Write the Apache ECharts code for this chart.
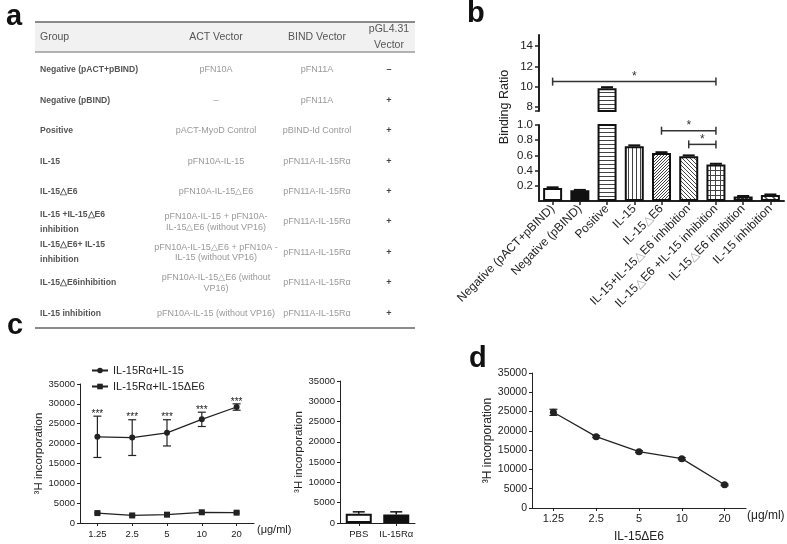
<!DOCTYPE html>
<html><head><meta charset="utf-8">
<script src="https://cdn.jsdelivr.net/npm/echarts@6/dist/echarts.min.js"></script>
<style>html,body{margin:0;padding:0;background:#fff}#c{width:787px;height:544px}</style>
</head><body><div id="c"></div>
<script>
// ---------- Panel a : table ----------
const tableHeader = ['Group', 'ACT Vector', 'BIND Vector', 'pGL4.31\nVector'];
const groupCol = ['Negative (pACT+pBIND)', 'Negative (pBIND)', 'Positive', 'IL-15', 'IL-15△E6',
  'IL-15 +IL-15△E6\ninhibition', 'IL-15△E6+ IL-15\ninhibition', 'IL-15△E6inhibition', 'IL-15 inhibition'];
const actCol = ['pFN10A', '–', 'pACT-MyoD Control', 'pFN10A-IL-15', 'pFN10A-IL-15△E6',
  'pFN10A-IL-15 + pFN10A-\nIL-15△E6 (without VP16)', 'pFN10A-IL-15△E6 + pFN10A -\nIL-15 (without VP16)',
  'pFN10A-IL-15△E6 (without\nVP16)', 'pFN10A-IL-15 (without VP16)'];
const bindCol = ['pFN11A', 'pFN11A', 'pBIND-Id Control', 'pFN11A-IL-15Rα', 'pFN11A-IL-15Rα',
  'pFN11A-IL-15Rα', 'pFN11A-IL-15Rα', 'pFN11A-IL-15Rα', 'pFN11A-IL-15Rα'];
const pglCol = ['–', '+', '+', '+', '+', '+', '+', '+', '+'];

// ---------- Panel b : binding ratio ----------
const bCategories = ['Negative (pACT+pBIND)', 'Negative (pBIND)', 'Positive', 'IL-15', 'IL-15△E6',
  'IL-15+IL-15△E6 inhibition', 'IL-15△E6 +IL-15 inhibition', 'IL-15△E6 inhibition', 'IL-15 inhibition'];
const bValues = [0.17, 0.14, 9.85, 0.72, 0.63, 0.59, 0.48, 0.06, 0.08];
const bErrors = [0.01, 0.006, 0.1, 0.012, 0.012, 0.01, 0.01, 0.006, 0.006];
const bUpperTicks = [8, 10, 12, 14];
const bLowerTicks = [0.2, 0.4, 0.6, 0.8, 1.0];
const bSignificance = [[0, 6, 10.5], [4, 6, 0.925], [5, 6, 0.745]];

// ---------- Panel c : proliferation ----------
const cDoses = ['1.25', '2.5', '5', '10', '20'];
const cIL15 = [21700, 21500, 22700, 26100, 29200];
const cIL15Err = [5200, 4500, 3300, 1800, 800];
const cIL15dE6 = [2500, 1900, 2100, 2700, 2600];
const cIL15dE6Err = [200, 200, 200, 200, 200];
const cCtrlCats = ['PBS', 'IL-15Rα'];
const cCtrlValues = [2300, 2100];
const cCtrlErr = [450, 650];
const cSeriesNames = ['IL-15Rα+IL-15', 'IL-15Rα+IL-15ΔE6'];

// ---------- Panel d : inhibition ----------
const dDoses = ['1.25', '2.5', '5', '10', '20'];
const dValues = [24800, 18500, 14600, 12800, 6000];
const dErr = [800, 250, 250, 250, 200];

const FONT = 'Liberation Sans, Arial, Helvetica, sans-serif';
const INK = '#222';

function pattern(kind) {
  const sizes = {h: 4, v: 4, d1: 3, d2: 4, grid: 5, dots: 4, wide: 8};
  const p = sizes[kind];
  const cv = document.createElement('canvas');
  cv.width = p; cv.height = p;
  const g = cv.getContext('2d');
  g.fillStyle = '#fff'; g.fillRect(0, 0, p, p);
  g.fillStyle = '#444'; g.strokeStyle = '#444'; g.lineWidth = 1;
  if (kind === 'h') g.fillRect(0, 0, p, 1);
  else if (kind === 'v') g.fillRect(0, 0, 1, p);
  else if (kind === 'grid') { g.fillRect(0, 0, p, 1); g.fillRect(0, 0, 1, p); }
  else if (kind === 'dots') { g.fillRect(0, 0, 2, 1); g.fillRect(2, 2, 2, 1); g.fillRect(1, 0, 1, 4); }
  else if (kind === 'd1') {
    g.beginPath(); g.moveTo(-1, p + 1); g.lineTo(p + 1, -1);
    g.moveTo(-1, 1); g.lineTo(1, -1); g.moveTo(p - 1, p + 1); g.lineTo(p + 1, p - 1); g.stroke();
  } else {
    g.lineWidth = kind === 'wide' ? 1.5 : 1;
    g.beginPath(); g.moveTo(-1, -1); g.lineTo(p + 1, p + 1);
    g.moveTo(p - 1, -1); g.lineTo(p + 1, 1); g.moveTo(-1, p - 1); g.lineTo(1, p + 1); g.stroke();
  }
  return {image: cv, repeat: 'repeat'};
}
const bFills = ['#fff', '#111', pattern('h'), pattern('v'), pattern('d1'), pattern('d2'), pattern('grid'), pattern('dots'), pattern('wide')];

const upperMin = 7.6, upperMax = 15.1;
function barItems(filterFn) {
  return bValues.map((v, i) => filterFn(v) ? {value: v, itemStyle: {color: bFills[i]}} : '-');
}
function errItems(filterFn) {
  return bValues.map((v, i) => [i, v, bErrors[i]]).filter(d => filterFn(d[1]));
}

function barErr(capHalf, lw) {
  return function (params, api) {
    const i = api.value(0), v = api.value(1), e = api.value(2);
    const p0 = api.coord([i, v]), p1 = api.coord([i, v + e]);
    const st = {stroke: '#111', lineWidth: lw};
    return {type: 'group', children: [
      {type: 'line', shape: {x1: p0[0], y1: p0[1], x2: p1[0], y2: p1[1]}, style: st},
      {type: 'line', shape: {x1: p1[0] - capHalf, y1: p1[1], x2: p1[0] + capHalf, y2: p1[1]}, style: st}
    ]};
  };
}
function lineErr(capHalf, mark) {
  return function (params, api) {
    const i = api.value(0), v = api.value(1), e = api.value(2);
    const t = api.coord([i, v + e]), b = api.coord([i, v - e]);
    const st = {stroke: INK, lineWidth: 1.2};
    const ch = [
      {type: 'line', shape: {x1: t[0], y1: t[1], x2: b[0], y2: b[1]}, style: st},
      {type: 'line', shape: {x1: t[0] - capHalf, y1: t[1], x2: t[0] + capHalf, y2: t[1]}, style: st},
      {type: 'line', shape: {x1: b[0] - capHalf, y1: b[1], x2: b[0] + capHalf, y2: b[1]}, style: st}
    ];
    if (mark) ch.push({type: 'text', x: t[0], y: t[1] + 3, style: {text: mark, align: 'center', verticalAlign: 'bottom', fontSize: 10, fill: INK, fontFamily: FONT}});
    return {type: 'group', children: ch};
  };
}
function sigRender(params, api) {
  const a = api.coord([api.value(0), api.value(2)]), b = api.coord([api.value(1), api.value(2)]);
  const st = {stroke: '#333', lineWidth: 1.5};
  return {type: 'group', children: [
    {type: 'line', shape: {x1: a[0], y1: a[1], x2: b[0], y2: b[1]}, style: st},
    {type: 'line', shape: {x1: a[0], y1: a[1] - 4, x2: a[0], y2: a[1] + 4}, style: st},
    {type: 'line', shape: {x1: b[0], y1: b[1] - 4, x2: b[0], y2: b[1] + 4}, style: st},
    {type: 'text', x: (a[0] + b[0]) / 2, y: a[1] + 1, style: {text: '*', align: 'center', verticalAlign: 'bottom', fontSize: 12, fill: '#333', fontFamily: FONT}}
  ]};
}

// ---------- graphics (table + panel letters) ----------
const graphics = [];
function txt(x, y, text, o) {
  graphics.push({type: 'text', x: x, y: y, silent: true, rotation: (o && o.rot) || 0,
    style: Object.assign({text: text, fontFamily: FONT, fontSize: 9, fill: '#999', align: 'center', verticalAlign: 'middle'}, o && o.style)});
}
function hline(x1, x2, y, w, c) {
  graphics.push({type: 'line', silent: true, shape: {x1: x1, y1: y, x2: x2, y2: y}, style: {stroke: c, lineWidth: w}});
}
graphics.push({type: 'rect', silent: true, shape: {x: 35, y: 22, width: 380, height: 30}, style: {fill: '#f1f1f1'}});
hline(35, 415, 22, 2, '#8a8a8a');
hline(35, 415, 52, 1.5, '#9a9a9a');
hline(35, 415, 328, 2, '#8a8a8a');
const colX = [40, 216, 317, 389];
tableHeader.forEach((h, k) => txt(colX[k], 37, h, {style: {fontSize: 10.5, fill: '#555', align: k === 0 ? 'left' : 'center', lineHeight: 16}}));
groupCol.forEach((g, r) => {
  const y = 70 + r * 30.4;
  txt(colX[0], y, g, {style: {align: 'left', fontWeight: 'bold', fill: '#555', fontSize: 8.6, lineHeight: 15}});
  txt(colX[1], y, actCol[r], {style: {lineHeight: 10.5}});
  txt(colX[2], y, bindCol[r]);
  txt(colX[3], y, pglCol[r], {style: {fill: '#444', fontSize: 9, fontWeight: 'bold'}});
});
const letters = [['a', 6, 17], ['b', 467, 14], ['c', 7, 326], ['d', 469, 359]];
letters.forEach(l => txt(l[1], l[2], l[0], {style: {align: 'left', fontSize: 29, fontWeight: 'bold', fill: '#111'}}));
txt(505, 107, 'Binding Ratio', {rot: Math.PI / 2, style: {fontSize: 12.5, fill: INK}});

// ---------- axes helpers ----------
const axLine = (w) => ({show: true, lineStyle: {color: INK, width: w}});
function valueY(grid, fs, nameGap, name) {
  return {type: 'value', gridIndex: grid, min: 0, max: 35000, interval: 5000,
    axisLine: axLine(1), axisTick: {show: true, length: 3, lineStyle: {color: INK}},
    axisLabel: {fontSize: fs, color: INK, margin: 5, formatter: v => String(v)}, splitLine: {show: false},
    name: name, nameLocation: 'middle', nameGap: nameGap, nameTextStyle: {fontSize: 11.5, color: INK}};
}

const option = {
  animation: false,
  textStyle: {fontFamily: FONT},
  graphic: graphics,
  legend: {left: 86, top: 360, orient: 'vertical', itemWidth: 16, itemHeight: 7, itemGap: 5,
    textStyle: {fontSize: 11, color: INK}, data: cSeriesNames},
  grid: [
    {left: 539, top: 35, width: 245, height: 76},
    {left: 539, top: 125, width: 245, height: 76},
    {left: 80, top: 384, width: 174, height: 139},
    {left: 340, top: 381, width: 75, height: 142},
    {left: 532, top: 373, width: 214, height: 142}
  ],
  xAxis: [
    {type: 'category', gridIndex: 0, data: bCategories, show: false},
    {type: 'category', gridIndex: 1, data: bCategories,
      axisLine: axLine(2), axisTick: {show: true, alignWithLabel: true, length: 4, lineStyle: {color: INK, width: 1.5}},
      axisLabel: {interval: 0, rotate: 45, fontSize: 12, color: INK, margin: 6,
        formatter: v => v.replace(/△/g, '{g|△}'), rich: {g: {color: '#aaa', fontSize: 12}}}},
    {type: 'category', gridIndex: 2, data: cDoses,
      axisLine: axLine(1), axisTick: {show: true, alignWithLabel: true, length: 3, lineStyle: {color: INK}},
      axisLabel: {fontSize: 9.5, color: INK, margin: 6, interval: 0},
      name: '(μg/ml)', nameLocation: 'end', nameGap: 3, nameTextStyle: {fontSize: 11, color: INK, verticalAlign: 'top', padding: [1, 0, 0, 0]}},
    {type: 'category', gridIndex: 3, data: cCtrlCats,
      axisLine: axLine(1), axisTick: {show: true, alignWithLabel: true, length: 3, lineStyle: {color: INK}},
      axisLabel: {fontSize: 9.5, color: INK, margin: 6, interval: 0, hideOverlap: false}},
    {type: 'category', gridIndex: 4, data: dDoses,
      axisLine: axLine(1), axisTick: {show: true, alignWithLabel: true, length: 3, lineStyle: {color: INK}},
      axisLabel: {fontSize: 11, color: INK, margin: 5, interval: 0},
      name: '(μg/ml)', nameLocation: 'end', nameGap: 1, nameTextStyle: {fontSize: 12, color: INK, verticalAlign: 'top', padding: [2, 0, 0, 0]}},
    {type: 'category', gridIndex: 4, data: dDoses, position: 'bottom',
      axisLine: {show: false}, axisTick: {show: false}, axisLabel: {show: false},
      name: 'IL-15ΔE6', nameLocation: 'middle', nameGap: 23, nameTextStyle: {fontSize: 12, color: INK}}
  ],
  yAxis: [
    {type: 'value', gridIndex: 0, min: upperMin, max: upperMax, splitLine: {show: false},
      axisLine: axLine(2), axisTick: {show: true, length: 4, lineStyle: {color: INK, width: 1.5}, customValues: [upperMin].concat(bUpperTicks)},
      axisLabel: {customValues: bUpperTicks, fontSize: 11.5, color: INK, margin: 6}},
    {type: 'value', gridIndex: 1, min: 0, max: 1, splitLine: {show: false},
      axisLine: axLine(2), axisTick: {show: true, length: 4, lineStyle: {color: INK, width: 1.5}, customValues: bLowerTicks},
      axisLabel: {customValues: bLowerTicks, formatter: v => v.toFixed(1), fontSize: 11.5, color: INK, margin: 6}},
    valueY(2, 9.5, 32, '³H incorporation'),
    valueY(3, 9.5, 32, '³H incorporation'),
    Object.assign(valueY(4, 10.5, 34, '³H incorporation'), {nameTextStyle: {fontSize: 12, color: INK}})
  ],
  series: [
    {type: 'bar', xAxisIndex: 0, yAxisIndex: 0, barWidth: 19, data: barItems(v => v > upperMin),
      itemStyle: {borderColor: '#111', borderWidth: 2}},
    {type: 'bar', xAxisIndex: 1, yAxisIndex: 1, barWidth: 19, data: barItems(() => true),
      itemStyle: {borderColor: '#111', borderWidth: 2}},
    {type: 'custom', xAxisIndex: 0, yAxisIndex: 0, renderItem: barErr(6, 2), data: errItems(v => v > 1), encode: {x: 0, y: 1}, z: 5},
    {type: 'custom', xAxisIndex: 1, yAxisIndex: 1, renderItem: barErr(6, 2), data: errItems(v => v <= 1), encode: {x: 0, y: 1}, z: 5},
    {type: 'custom', xAxisIndex: 0, yAxisIndex: 0, renderItem: sigRender, data: bSignificance.filter(s => s[2] > 1), encode: {x: 0, y: 2}, z: 6},
    {type: 'custom', xAxisIndex: 1, yAxisIndex: 1, renderItem: sigRender, data: bSignificance.filter(s => s[2] <= 1), encode: {x: 0, y: 2}, z: 6},

    {name: cSeriesNames[0], type: 'line', xAxisIndex: 2, yAxisIndex: 2, data: cIL15, symbol: 'circle', symbolSize: 6,
      lineStyle: {color: INK, width: 1.2}, itemStyle: {color: INK}},
    {name: cSeriesNames[1], type: 'line', xAxisIndex: 2, yAxisIndex: 2, data: cIL15dE6, symbol: 'rect', symbolSize: 6,
      lineStyle: {color: INK, width: 1.2}, itemStyle: {color: INK}},
    {type: 'custom', xAxisIndex: 2, yAxisIndex: 2, renderItem: lineErr(4, '***'), encode: {x: 0, y: 1},
      data: cIL15.map((v, i) => [i, v, cIL15Err[i]])},
    {type: 'custom', xAxisIndex: 2, yAxisIndex: 2, renderItem: lineErr(3, null), encode: {x: 0, y: 1},
      data: cIL15dE6.map((v, i) => [i, v, cIL15dE6Err[i]])},

    {type: 'bar', xAxisIndex: 3, yAxisIndex: 3, barWidth: 26,
      data: cCtrlValues.map((v, i) => ({value: v, itemStyle: {color: i === 0 ? '#fff' : '#111'}})),
      itemStyle: {borderColor: '#111', borderWidth: 2}},
    {type: 'custom', xAxisIndex: 3, yAxisIndex: 3, renderItem: barErr(6, 1.5), encode: {x: 0, y: 1}, z: 5,
      data: cCtrlValues.map((v, i) => [i, v, cCtrlErr[i]])},

    {type: 'line', xAxisIndex: 4, yAxisIndex: 4, data: dValues, symbol: 'circle', symbolSize: 7,
      lineStyle: {color: INK, width: 1.2}, itemStyle: {color: INK}},
    {type: 'custom', xAxisIndex: 4, yAxisIndex: 4, renderItem: lineErr(4, null), encode: {x: 0, y: 1},
      data: dValues.map((v, i) => [i, v, dErr[i]])}
  ]
};
const chart = echarts.init(document.getElementById('c'), null, {renderer: 'canvas'});
chart.setOption(option);
</script></body></html>
